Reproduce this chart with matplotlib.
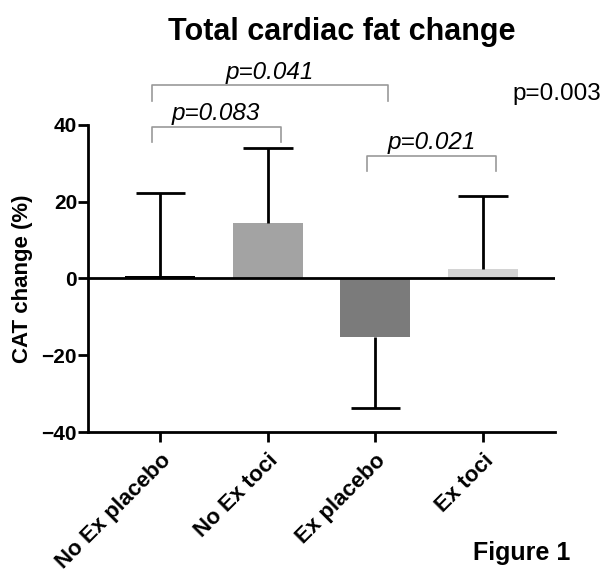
import matplotlib
matplotlib.use("Agg")
import matplotlib.pyplot as plt
import numpy as np

plt.rcParams['font.family'] = ['Liberation Sans', 'DejaVu Sans']

# Group means and SD of cardiac adipose tissue change
groups = ["No Ex placebo", "No Ex toci", "Ex placebo", "Ex toci"]
means = [0.7, 14.5, -15.3, 2.6]
errs = [21.5, 19.6, 18.5, 19.0]
colors = ["#000000", "#a3a3a3", "#7b7b7b", "#d4d4d4"]

# pairwise comparisons: (left group, right group, bracket height, label)
pairs = [(0, 1, 39.6, "p=0.083"), (0, 2, 50.3, "p=0.041"), (2, 3, 32.0, "p=0.021")]

fig = plt.figure(figsize=(6.04, 5.76), dpi=100)
ax = fig.add_axes([0.146, 0.25, 0.773, 0.533])

x = np.arange(len(groups))
ax.bar(x, means, width=0.65, color=colors, zorder=2)

# one-sided error bars pointing away from zero
ends = [m + e if m >= 0 else m - e for m, e in zip(means, errs)]
ax.vlines(x, means, ends, color="black", lw=2, zorder=3)
ax.hlines(ends, x - 0.23, x + 0.23, color="black", lw=2, zorder=3)

ax.axhline(0, color="black", lw=2, zorder=4)
ax.set_xlim(-0.67, 3.67)
ax.set_ylim(-40, 40)
ax.set_yticks([-40, -20, 0, 20, 40])
ax.set_xticks(x)
ax.set_xticklabels(groups, rotation=45, ha="right", rotation_mode="anchor",
                   fontsize=16, fontweight="bold")
for lab in ax.get_yticklabels():
    lab.set_fontweight("bold")
    lab.set_fontsize(15)
ax.tick_params(width=2, length=7, pad=1)
ax.tick_params(axis="x", pad=6)
for s in ["top", "right"]:
    ax.spines[s].set_visible(False)
for s in ["left", "bottom"]:
    ax.spines[s].set_linewidth(2)
ax.set_ylabel("CAT change (%)", fontsize=16, fontweight="bold", labelpad=6)

# significance brackets
for a, b, h, txt in pairs:
    xa, xb = a - 0.08, b + 0.12
    ax.plot([xa, xa, xb, xb], [h - 4, h, h, h - 4], color="#999999", lw=1.2,
            clip_on=False)
    ax.text((xa + xb) / 2, h + 0.5, txt, ha="center", va="bottom",
            fontsize=17.5, style="italic")

ax.text(3.27, 48, "p=0.003", ha="left", va="center", fontsize=17.5)

fig.text(0.566, 0.945, "Total cardiac fat change", ha="center", va="center",
         fontsize=22, fontweight="bold")
fig.text(0.863, 0.04, "Figure 1", ha="center", va="center",
         fontsize=18, fontweight="bold")

fig.savefig("out.png", dpi=100)
